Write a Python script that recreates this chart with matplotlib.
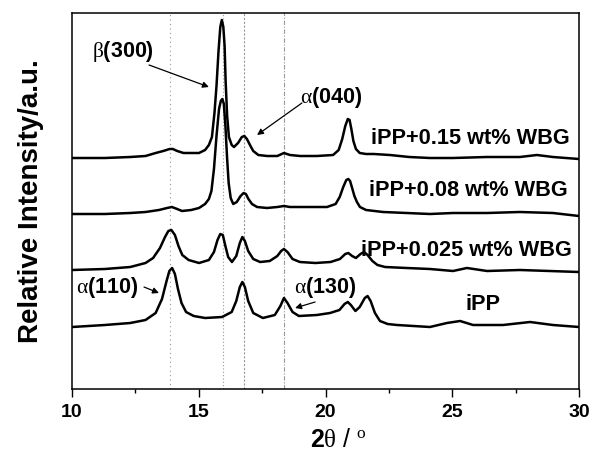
import matplotlib
matplotlib.use('Agg')
import matplotlib.pyplot as plt

plt.rcParams['font.family'] = ['Liberation Sans', 'DejaVu Sans']
plt.rcParams['mathtext.fontset'] = 'custom'
plt.rcParams['mathtext.rm'] = 'Liberation Serif'
plt.rcParams['mathtext.it'] = 'Liberation Serif:italic'
plt.rcParams['mathtext.bf'] = 'Liberation Sans:bold'

# XRD patterns (2theta in degrees, intensity in a.u., already offset)
tth_015 = [10.0, 11.3, 12.3, 12.9, 13.3, 13.6, 13.85, 13.98, 14.15, 14.4, 15.01, 15.25,
           15.40, 15.52, 15.62, 15.70, 15.78, 15.85, 15.91, 15.97, 16.02, 16.06, 16.12, 16.19,
           16.30, 16.39, 16.55, 16.70, 16.80, 16.90, 17.02, 17.15, 17.35, 17.70, 18.1, 18.36,
           18.6, 19.0, 19.66, 20.3, 20.52, 20.66, 20.78, 20.88, 20.95, 21.02, 21.10, 21.20,
           21.35, 21.60, 21.9, 22.54, 23.3, 24.12, 25.03, 26.37, 27.67, 28.34, 28.97, 30.0]
int_015 = [233, 233, 234, 235, 238, 240, 242, 242, 240, 238, 238, 241,
           246, 254, 278, 305, 340, 364, 371, 364, 345, 310, 275, 254,
           246, 244, 248, 254, 255, 252, 246, 240, 236, 235, 235, 238,
           236, 235, 235, 236, 241, 252, 265, 272, 271, 262, 250, 242,
           238, 237, 237, 236, 234, 233, 233, 234, 234, 236, 234, 232]

tth_008 = [10.0, 11.3, 12.3, 12.9, 13.43, 13.75, 13.94, 14.15, 14.34, 14.7, 15.01, 15.25,
           15.40, 15.50, 15.60, 15.70, 15.80, 15.87, 15.93, 15.99, 16.05, 16.12, 16.18, 16.26,
           16.36, 16.50, 16.65, 16.77, 16.86, 16.96, 17.10, 17.30, 17.69, 18.1, 18.36, 18.6,
           18.99, 20.06, 20.40, 20.56, 20.70, 20.82, 20.90, 20.97, 21.05, 21.14, 21.24, 21.36,
           21.60, 22.27, 23.2, 24.12, 25.03, 26.37, 27.67, 28.97, 30.0]
int_008 = [177, 177, 178, 179, 181, 183, 184, 182, 180, 181, 183, 187,
           192, 200, 222, 255, 282, 290, 292, 287, 266, 232, 208, 193,
           187, 189, 195, 198, 197, 192, 187, 184, 183, 184, 185, 184,
           184, 184, 187, 194, 204, 211, 212, 210, 203, 195, 189, 184,
           181, 179, 178, 177, 178, 178, 179, 178, 175]

tth_0025 = [10.0, 11.3, 12.3, 12.9, 13.2, 13.47, 13.67, 13.80, 13.92, 14.06, 14.20, 14.35,
            14.60, 15.01, 15.40, 15.60, 15.74, 15.85, 15.95, 16.05, 16.16, 16.31, 16.48, 16.62,
            16.72, 16.82, 16.95, 17.15, 17.42, 17.8, 18.1, 18.25, 18.36, 18.50, 18.70, 18.99,
            19.6, 20.2, 20.57, 20.78, 20.90, 21.05, 21.20, 21.38, 21.52, 21.66, 21.85, 22.05,
            22.35, 23.2, 24.12, 25.03, 25.58, 26.37, 27.67, 30.0]
int_0025 = [121, 122, 124, 128, 133, 143, 154, 160, 161, 156, 145, 136,
            131, 128, 131, 139, 151, 157, 156, 145, 134, 129, 135, 148,
            154, 150, 140, 132, 129, 130, 135, 140, 142, 139, 132, 129,
            128, 129, 132, 137, 138, 135, 133, 137, 139, 136, 130, 126,
            124, 123, 122, 120, 123, 120, 121, 119]

tth_ipp = [10.0, 11.3, 12.3, 12.9, 13.3, 13.55, 13.72, 13.84, 13.95, 14.06, 14.18, 14.32,
           14.50, 14.80, 15.25, 15.92, 16.30, 16.48, 16.62, 16.72, 16.82, 16.95, 17.15, 17.53,
           18.0, 18.22, 18.36, 18.50, 18.70, 18.95, 19.66, 20.18, 20.55, 20.75, 20.88, 21.00,
           21.18, 21.35, 21.55, 21.66, 21.78, 21.95, 22.15, 22.45, 22.82, 24.12, 24.79, 25.31,
           25.82, 27.00, 28.07, 28.97, 30.0]
int_ipp = [64, 66, 68, 71, 78, 92, 109, 120, 123, 117, 102, 88,
           79, 75, 73, 74, 79, 90, 104, 109, 104, 90, 78, 73,
           76, 85, 93, 88, 79, 75, 76, 78, 81, 87, 89, 86,
           80, 84, 93, 95, 90, 78, 70, 67, 66, 64, 68, 70,
           66, 66, 69, 66, 64]

# reference peak positions (vertical guide lines)
guide_pos = [13.85, 15.95, 16.78, 18.38]
guide_styles = [(0, (1, 3)), (0, (1, 2)), (0, (2, 1.5)), (0, (4, 1.5, 1, 1.5))]

fig = plt.figure(figsize=(5.93, 4.54), dpi=100)
ax = fig.add_axes([72 / 593, 1 - 389 / 454, 507 / 593, 376 / 454])

for xp, ls in zip(guide_pos, guide_styles):
    ax.axvline(xp, color='#999999', lw=0.8, ls=ls, zorder=1)

for xs, ys in [(tth_015, int_015), (tth_008, int_008), (tth_0025, int_0025), (tth_ipp, int_ipp)]:
    ax.plot(xs, ys, color='black', lw=1.8, solid_joinstyle='round', zorder=3)

ax.set_xlim(10, 30)
ax.set_ylim(2, 378)
ax.set_yticks([])
ax.set_xticks([10, 15, 20, 25, 30])
ax.set_xticks([12.5, 17.5, 22.5, 27.5], minor=True)
ax.tick_params(axis='x', which='major', direction='out', length=6, width=1, labelsize=14, pad=5)
ax.tick_params(axis='x', which='minor', direction='out', length=3, width=1)
for lbl in ax.get_xticklabels():
    lbl.set_fontweight('bold')
for sp in ax.spines.values():
    sp.set_linewidth(1.1)

ax.set_ylabel('Relative Intensity/a.u.', fontsize=20, fontweight='bold', labelpad=20)
ax.set_xlabel(r'$\mathbf{2}\mathrm{\theta}$ / $^{\mathrm{o}}$', fontsize=18)
ax.xaxis.set_label_coords(0.525, -0.105)

# sample labels
lab_kw = dict(fontsize=15.7, fontweight='bold', va='center', zorder=4)
ax.text(29.64, 253, 'iPP+0.15 wt% WBG', ha='right', **lab_kw)
ax.text(29.57, 200, 'iPP+0.08 wt% WBG', ha='right', **lab_kw)
ax.text(29.72, 141, 'iPP+0.025 wt% WBG', ha='right', **lab_kw)
ax.text(26.21, 86, 'iPP', ha='center', **lab_kw)

# peak annotations
arr = dict(arrowstyle='-|>', color='black', lw=0.9, mutation_scale=9, shrinkA=0, shrinkB=0)
ann_kw = dict(fontsize=15.5, fontweight='bold', ha='center', va='center')
ax.text(12.01, 340, r'$\mathrm{\beta}$(300)', **ann_kw)
ax.annotate('', xy=(15.40, 304), xytext=(13.04, 326), arrowprops=arr)
ax.text(20.22, 294, r'$\mathrm{\alpha}$(040)', **ann_kw)
ax.annotate('', xy=(17.30, 256), xytext=(19.07, 288), arrowprops=arr)
ax.text(11.38, 104, r'$\mathrm{\alpha}$(110)', **ann_kw)
ax.annotate('', xy=(13.43, 98), xytext=(12.84, 104), arrowprops=arr)
ax.text(19.98, 103, r'$\mathrm{\alpha}$(130)', **ann_kw)
ax.annotate('', xy=(18.80, 83), xytext=(19.59, 89), arrowprops=arr)

fig.savefig('out.png', dpi=100)
